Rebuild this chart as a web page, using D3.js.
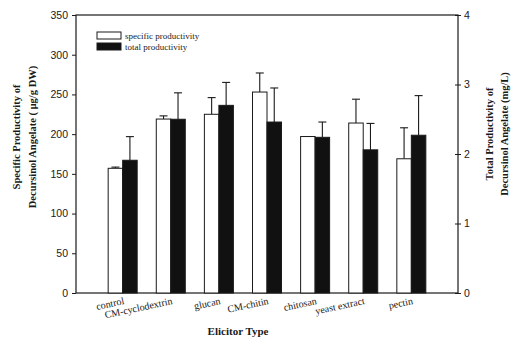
<!DOCTYPE html>
<html>
<head>
<meta charset="utf-8">
<script src="https://cdn.jsdelivr.net/npm/d3@7"></script>
<style>
  html, body { margin: 0; padding: 0; background: #fff; }
  svg { display: block; }
</style>
</head>
<body>
<svg id="chart" width="516" height="338"></svg>
<script>
// ---- data ----
const categories = ["control", "CM-cyclodextrin", "glucan", "CM-chitin", "chitosan", "yeast extract", "pectin"];
const specificValues = [157, 219, 225, 253, 197, 214, 169];
const specificErrors = [1.5, 4, 21, 24, 0, 30, 39];
const totalValues = [1.91, 2.50, 2.70, 2.46, 2.24, 2.06, 2.27];
const totalErrors = [0.34, 0.38, 0.33, 0.49, 0.22, 0.38, 0.57];
const leftTicks = [0, 50, 100, 150, 200, 250, 300, 350];
const rightTicks = [0, 1, 2, 3, 4];
const seriesNames = ["specific productivity", "total productivity"];

// ---- layout ----
const L = 76, R = 458, T = 15, B = 293;
const svg = d3.select("#chart");
const ink = "#1a1a1a";
const serif = "'Liberation Serif', 'Times New Roman', serif";
const sans = "'Liberation Sans', Arial, sans-serif";

const x = d3.scalePoint().domain(categories).range([L, R]).padding(0.97);
const yL = d3.scaleLinear().domain([0, 350]).range([B, T]);
const yR = d3.scaleLinear().domain([0, 4]).range([B, T]);
const bw = 14.5, cap = 4;

// frame
svg.append("rect").attr("x", L).attr("y", T).attr("width", R - L).attr("height", B - T)
  .attr("fill", "none").attr("stroke", ink).attr("stroke-width", 1.2);

// axes
const gl = svg.append("g").attr("transform", `translate(${L},0)`)
  .call(d3.axisLeft(yL).tickValues(leftTicks).tickSize(4).tickPadding(4));
const gr = svg.append("g").attr("transform", `translate(${R},0)`)
  .call(d3.axisRight(yR).tickValues(rightTicks).tickSize(3).tickPadding(3).tickFormat(d3.format("d")));
[gl, gr].forEach(g => {
  g.select(".domain").remove();
  g.selectAll("line").attr("stroke", ink);
  g.selectAll("text").attr("font-family", sans).attr("font-size", 10.5).attr("fill", ink);
});
gr.selectAll(".tick").append("line").attr("x1", -3).attr("x2", 0).attr("stroke", ink);

// bars
const spec = categories.map((c, i) => ({ c, v: specificValues[i], e: specificErrors[i] }));
const tot = categories.map((c, i) => ({ c, v: totalValues[i], e: totalErrors[i] }));

function errorBars(data, cxFn, y) {
  const g = svg.append("g").attr("stroke", ink).attr("stroke-width", 1.1);
  g.selectAll("line.v").data(data).join("line")
    .attr("x1", cxFn).attr("x2", cxFn)
    .attr("y1", d => y(d.v)).attr("y2", d => y(d.v + d.e));
  g.selectAll("line.c").data(data).join("line")
    .attr("x1", d => cxFn(d) - cap).attr("x2", d => cxFn(d) + cap)
    .attr("y1", d => y(d.v + d.e)).attr("y2", d => y(d.v + d.e));
}

errorBars(spec, d => x(d.c) - bw / 2, yL);
errorBars(tot, d => x(d.c) + bw / 2, yR);

svg.append("g").selectAll("rect").data(spec).join("rect")
  .attr("x", d => x(d.c) - bw).attr("width", bw)
  .attr("y", d => yL(d.v)).attr("height", d => B - yL(d.v))
  .attr("fill", "#fff").attr("stroke", ink).attr("stroke-width", 1);
svg.append("g").selectAll("rect").data(tot).join("rect")
  .attr("x", d => x(d.c)).attr("width", bw)
  .attr("y", d => yR(d.v)).attr("height", d => B - yR(d.v))
  .attr("fill", "#111").attr("stroke", ink).attr("stroke-width", 1);

// category labels
svg.append("g").selectAll("text").data(categories).join("text")
  .attr("transform", d => `translate(${x(d) + 2},304) rotate(-12)`)
  .attr("text-anchor", "end")
  .attr("font-family", serif).attr("font-size", 10).attr("fill", ink)
  .text(d => d);

// x title
svg.append("text").attr("x", 238).attr("y", 335).attr("text-anchor", "middle")
  .attr("font-family", serif).attr("font-size", 11).attr("font-weight", "bold").attr("fill", ink)
  .text("Elicitor Type");

// y titles
function vtitle(cx, cy, lines, dx) {
  const t = svg.append("text").attr("transform", `translate(${cx},${cy}) rotate(-90)`)
    .attr("text-anchor", "middle").attr("font-family", serif).attr("font-size", 10.5)
    .attr("font-weight", "bold").attr("fill", ink);
  lines.forEach((s, i) => t.append("tspan").attr("x", 0).attr("y", i * dx).text(s));
}
vtitle(20, 137, ["Specific Productivity of", "Decursinol Angelate ( μg/g DW)"], 16);
vtitle(493, 134, ["Total Productivity of", "Decursinol Angelate (mg/L)"], 15);

// legend
const lg = svg.append("g");
const lx = 97, ly = [32, 43];
lg.selectAll("rect").data(seriesNames).join("rect")
  .attr("x", lx).attr("y", (d, i) => ly[i]).attr("width", 24).attr("height", 7)
  .attr("fill", (d, i) => i === 0 ? "#fff" : "#111").attr("stroke", ink).attr("stroke-width", 1);
lg.selectAll("text").data(seriesNames).join("text")
  .attr("x", lx + 28).attr("y", (d, i) => ly[i] + 6.5)
  .attr("font-family", serif).attr("font-size", 9).attr("fill", ink)
  .text(d => d);
</script>
</body>
</html>
